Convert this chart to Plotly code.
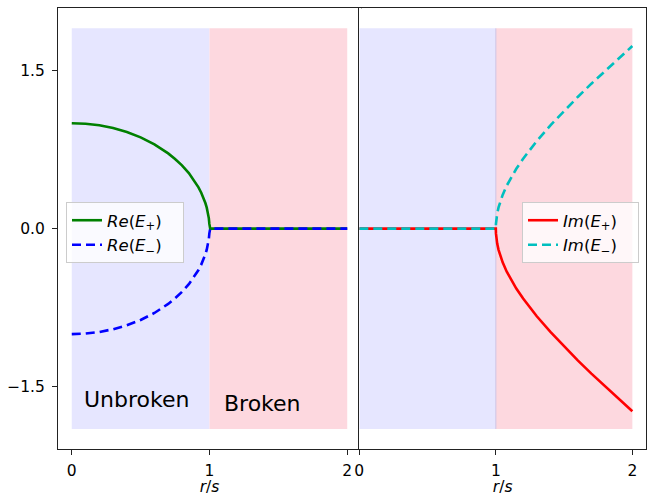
import plotly.graph_objects as go

# ---- data ----
r = [0.0, 0.1, 0.2, 0.3, 0.4, 0.5, 0.6, 0.7, 0.75, 0.8, 0.85, 0.9, 0.92, 0.94, 0.96, 0.97, 0.98, 0.99,
     0.995, 0.999, 1.0,
     1.001, 1.005, 1.01, 1.02, 1.03, 1.05, 1.08, 1.1, 1.15, 1.2, 1.3, 1.4, 1.5, 1.6, 1.7, 1.8, 1.9, 2.0]
re_plus = [1.0, 0.995, 0.98, 0.954, 0.917, 0.866, 0.8, 0.714, 0.661, 0.6, 0.527, 0.436, 0.392, 0.341,
           0.280, 0.243, 0.199, 0.141, 0.100, 0.045, 0.0,
           0, 0, 0, 0, 0, 0, 0, 0, 0, 0, 0, 0, 0, 0, 0, 0, 0, 0]
re_minus = [-v for v in re_plus]
im_minus = [0, 0, 0, 0, 0, 0, 0, 0, 0, 0, 0, 0, 0, 0, 0, 0, 0, 0, 0, 0, 0.0,
            0.045, 0.100, 0.142, 0.201, 0.246, 0.320, 0.408, 0.458, 0.568, 0.663, 0.831, 0.980,
            1.118, 1.249, 1.375, 1.497, 1.616, 1.732]
im_plus = [-v for v in im_minus]

region_edges = [0, 1, 2]
region_names = ["Unbroken", "Broken"]
region_colors = ["rgba(230,230,255,1)", "rgba(253,216,223,1)"]
region_band = [-1.9, 1.9]
label_pos = [(0.1, -1.7), (1.12, -1.73)]

x_ticks = [0, 1, 2]
y_ticks = [1.5, 0.0, -1.5]
y_ticklabels = ["1.5", "0.0", "\u22121.5"]

FONT = "DejaVu Sans"
PAD = "&nbsp;&nbsp;&nbsp;"

fig = go.Figure()

lw = 2.6
fig.add_trace(go.Scatter(x=r, y=re_plus, mode="lines", name="<i>Re</i>(<i>E</i><sub>+</sub>)" + PAD,
                         line=dict(color="#008000", width=lw), xaxis="x", yaxis="y", legend="legend"))
fig.add_trace(go.Scatter(x=r, y=re_minus, mode="lines", name="<i>Re</i>(<i>E</i><sub>\u2212</sub>)" + PAD,
                         line=dict(color="#0000ff", width=lw, dash="9px,5px"), xaxis="x", yaxis="y", legend="legend"))
fig.add_trace(go.Scatter(x=r, y=im_plus, mode="lines", name="<i>Im</i>(<i>E</i><sub>+</sub>)" + PAD,
                         line=dict(color="#ff0000", width=lw), xaxis="x2", yaxis="y2", legend="legend2"))
fig.add_trace(go.Scatter(x=r, y=im_minus, mode="lines", name="<i>Im</i>(<i>E</i><sub>\u2212</sub>)" + PAD,
                         line=dict(color="#00bfbf", width=lw, dash="9px,5px"), xaxis="x2", yaxis="y2", legend="legend2"))

shapes = []
for xr, yr in (("x", "y"), ("x2", "y2")):
    for i in range(2):
        shapes.append(dict(type="rect", xref=xr, yref=yr, x0=region_edges[i], x1=region_edges[i + 1],
                           y0=region_band[0], y1=region_band[1], fillcolor=region_colors[i],
                           line=dict(width=0), layer="below"))
shapes.append(dict(type="line", xref="x2", yref="y2", x0=region_edges[1], x1=region_edges[1],
                   y0=region_band[0], y1=region_band[1], line=dict(color="rgba(205,195,230,1)", width=1),
                   layer="below"))

annotations = []
for name, (ax, ay) in zip(region_names, label_pos):
    annotations.append(dict(x=ax, y=ay, xref="x", yref="y", text=name, showarrow=False,
                            xanchor="left", yanchor="middle", yshift=8, xshift=-4,
                            font=dict(family=FONT, size=22, color="black")))

axis_common = dict(showgrid=False, zeroline=False, showline=True, linecolor="#222", linewidth=1,
                   mirror=True, ticklen=5, tickcolor="#222", automargin=False,
                   tickfont=dict(family=FONT, size=15.5, color="black"))
xtitle = dict(text="<i>r</i>/<i>s</i>", font=dict(family=FONT, size=15.5, color="black"), standoff=5)

fig.update_layout(
    width=648, height=496,
    margin=dict(l=0, r=0, t=0, b=0),
    paper_bgcolor="white", plot_bgcolor="white",
    shapes=shapes, annotations=annotations,
    xaxis=dict(domain=[58 / 648, 361 / 648], range=[-0.1, 2.1], tickvals=x_ticks, ticks="outside",
               ticklabelstandoff=2, title=xtitle, anchor="y", **axis_common),
    yaxis=dict(domain=[47 / 496, 487.7 / 496], range=[-2.09, 2.09], tickvals=y_ticks, ticks="outside",
               ticklabelstandoff=4, ticktext=y_ticklabels, anchor="x", **axis_common),
    xaxis2=dict(domain=[359.3 / 648, 646 / 648], range=[0, 2.1], tickvals=x_ticks, ticks="outside",
                ticklabelstandoff=2, title=xtitle, anchor="y2", **axis_common),
    yaxis2=dict(domain=[47 / 496, 487.7 / 496], range=[-2.09, 2.09], matches="y", ticks="",
                showticklabels=False, anchor="x2", **axis_common),
    legend=dict(x=66 / 648, y=(496 - 202) / 496, xanchor="left", yanchor="top", itemwidth=30,
                bgcolor="rgba(255,255,255,0.8)", bordercolor="#cccccc", borderwidth=1,
                font=dict(family=FONT, size=16.5, color="black"), tracegroupgap=0),
    legend2=dict(x=639 / 648, y=(496 - 202) / 496, xanchor="right", yanchor="top", itemwidth=30,
                 bgcolor="rgba(255,255,255,0.8)", bordercolor="#cccccc", borderwidth=1,
                 font=dict(family=FONT, size=16.5, color="black"), tracegroupgap=0),
)

fig.write_html("out.html")
